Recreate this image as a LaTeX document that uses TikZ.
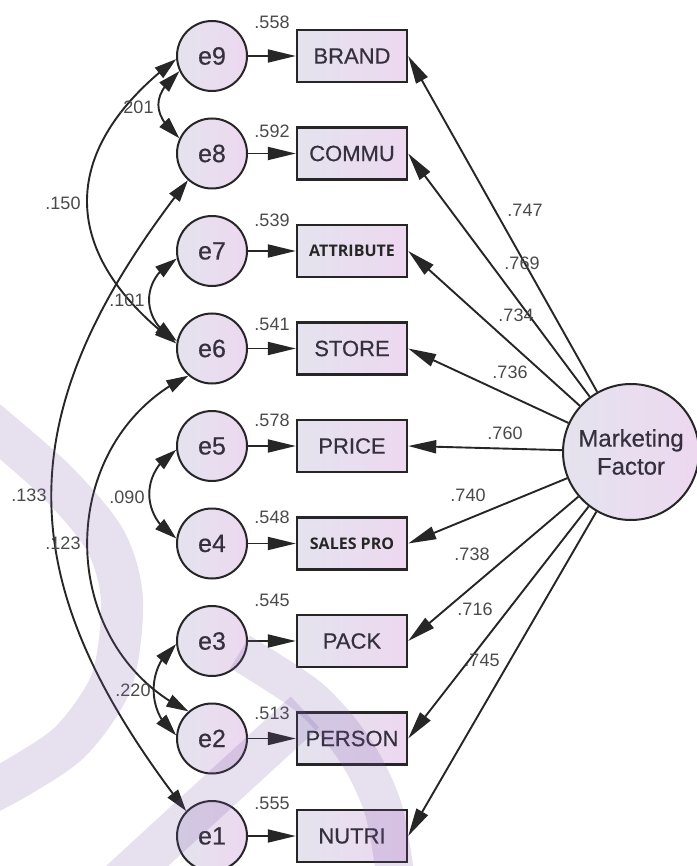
\documentclass[tikz,border=0pt]{standalone}
\usepackage{fontspec}
\setmainfont{Liberation Sans}
\newfontfamily\lbl{Liberation Sans}[FakeBold=0.5]
\newfontfamily\osans{Open Sans}
\usetikzlibrary{arrows.meta,bending}
\definecolor{ln}{HTML}{262626}
\definecolor{txt}{HTML}{35303D}
\definecolor{numc}{HTML}{4A4A4A}
\definecolor{fA}{HTML}{E4E3EE}
\definecolor{fB}{HTML}{EDD8F0}
\definecolor{wm}{HTML}{7A55AA}
\begin{document}
\begin{tikzpicture}[x=1pt,y=-1pt,
  err/.style={circle, draw=ln, line width=2pt, minimum size=70pt, inner sep=0pt, left color=fA, right color=fB, text=txt, font=\lbl\fontsize{25}{25}\selectfont},
  obs/.style={rectangle, draw=ln, line width=2.4pt, minimum width=110pt, minimum height=52pt, inner sep=0pt, left color=fA, right color=fB, text=txt, font=\lbl\fontsize{22}{22}\selectfont},
  obsb/.style={obs, font=\osans\bfseries\fontsize{16}{16}\selectfont, text=black!85},
  lat/.style={circle, draw=ln, line width=2pt, minimum size=136pt, inner sep=0pt, left color=fA, right color=fB, text=txt, align=center, font=\lbl\fontsize{24}{28}\selectfont},
  numl/.style={text=numc, font=\fontsize{18}{18}\selectfont, inner sep=0pt},
  arr/.style={draw=ln, line width=1.9pt, -{Triangle[length=28pt,width=13pt]}},
  cov/.style={draw=ln, line width=1.9pt, {Triangle[length=22pt,width=13pt]}-{Triangle[length=22pt,width=13pt]}},
  band/.style={draw=wm, draw opacity=0.18, line width=42pt}
]
\useasboundingbox[fill=white] (0,0) rectangle (696,866);

% error terms
\node[err] (e9) at (212,56) {e9};
\node[err] (e8) at (212,153.5) {e8};
\node[err] (e7) at (212,251) {e7};
\node[err] (e6) at (212,348.5) {e6};
\node[err] (e5) at (212,446) {e5};
\node[err] (e4) at (212,543.5) {e4};
\node[err] (e3) at (212,641) {e3};
\node[err] (e2) at (212,738.5) {e2};
\node[err] (e1) at (212,836) {e1};

% observed
\node[obs] (BRAND) at (352,56) {BRAND};
\node[obs] (COMMU) at (352,153.5) {COMMU};
\node[obsb] (ATTR) at (352,251) {ATTRIBUTE};
\node[obs] (STORE) at (352,348.5) {STORE};
\node[obs] (PRICE) at (352,446) {PRICE};
\node[obsb] (SALES) at (352,543.5) {SALES PRO};
\node[obs] (PACK) at (352,641) {PACK};
\node[obs] (PERSON) at (352,738.5) {PERSON};
\node[obs] (NUTRI) at (352,836) {NUTRI};

% latent
\node[lat] (F) at (631,452) {Marketing\\Factor};

% error -> indicator
\foreach \e/\b in {e9/BRAND,e8/COMMU,e7/ATTR,e6/STORE,e5/PRICE,e4/SALES,e3/PACK,e2/PERSON,e1/NUTRI}
  \draw[arr] (\e) -- (\b);

% factor -> indicators
\foreach \b in {BRAND,COMMU,ATTR,STORE,PRICE,SALES,PACK,PERSON,NUTRI}
  \draw[arr] (F) -- (\b.east);

% covariances
\draw[cov] (e9.205) .. controls +(-28,24) and +(-28,-24) .. (e8.155);
\draw[cov] (e7.192) .. controls +(-37,20) and +(-37,-20) .. (e6.168);
\draw[cov] (e5.186) .. controls +(-36,22) and +(-36,-22) .. (e4.172);
\draw[cov] (e3.185) .. controls +(-30,22) and +(-30,-22) .. (e2.175);
\draw[cov] (e9.185) .. controls +(-119,90) and +(-119,-90) .. (e6.172);
\draw[cov] (e8.228) .. controls +(-182,232) and +(-180,-232) .. (e1.136);
\draw[cov] (e6.229) .. controls +(-135,65) and +(-135,-65) .. (e2.131);

% variance labels
\node[numl] (v9) at (272,22) {.558};
\node[numl] (v8) at (272,131) {.592};
\node[numl] (v7) at (272,220) {.539};
\node[numl] (v6) at (272,324) {.541};
\node[numl] (v5) at (272,420) {.578};
\node[numl] (v4) at (272,517) {.548};
\node[numl] (v3) at (272,600) {.545};
\node[numl] (v2) at (272,713) {.513};
\node[numl] (v1) at (272,803) {.555};

% covariance labels
\node[numl] (c98) at (136,107) {.201};
\node[numl] (c96) at (63,203) {.150};
\node[numl] (c76) at (127,300) {.101};
\node[numl] (c54) at (127,497) {.090};
\node[numl] (c81) at (29,495) {.133};
\node[numl] (c62) at (63,543) {.123};
\node[numl] (c32) at (133,690) {.220};

% loading labels
\node[numl] (l9) at (525,210) {.747};
\node[numl] (l8) at (522,263) {.769};
\node[numl] (l7) at (516,315) {.734};
\node[numl] (l6) at (510,372) {.736};
\node[numl] (l5) at (505,433) {.760};
\node[numl] (l4) at (468,495) {.740};
\node[numl] (l3) at (472,554) {.738};
\node[numl] (l2) at (475,609) {.716};
\node[numl] (l1) at (482,660) {.745};

% watermark
\draw[band] plot[smooth] coordinates {(-20,415) (55,480) (105,540) (122,600) (112,680) (72,740) (20,776) (-25,800)};
\draw[band] (100,900) -- (305,712);
\draw[band, line width=38pt] plot[smooth] coordinates {(240,652) (310,698) (355,750) (383,808) (396,880)};
\end{tikzpicture}
\end{document}
